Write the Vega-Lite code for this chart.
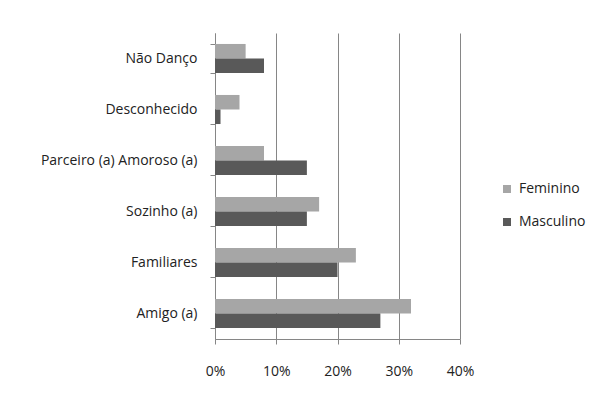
{
  "$schema": "https://vega.github.io/schema/vega-lite/v6.json",
  "autosize": "none",
  "width": 245,
  "height": 306,
  "padding": {"left": 215, "top": 33, "right": 131, "bottom": 59},
  "background": "white",
  "config": {
    "view": {"stroke": null},
    "font": "Open Sans",
    "axis": {"labelFont": "Open Sans", "labelColor": "#222222", "labelFontSize": 14}
  },
  "data": {
    "values": [
      {"categoria": "Não Danço", "sexo": "Feminino", "valor": 0.05},
      {"categoria": "Não Danço", "sexo": "Masculino", "valor": 0.08},
      {"categoria": "Desconhecido", "sexo": "Feminino", "valor": 0.04},
      {"categoria": "Desconhecido", "sexo": "Masculino", "valor": 0.009},
      {"categoria": "Parceiro (a) Amoroso (a)", "sexo": "Feminino", "valor": 0.08},
      {"categoria": "Parceiro (a) Amoroso (a)", "sexo": "Masculino", "valor": 0.15},
      {"categoria": "Sozinho (a)", "sexo": "Feminino", "valor": 0.17},
      {"categoria": "Sozinho (a)", "sexo": "Masculino", "valor": 0.15},
      {"categoria": "Familiares", "sexo": "Feminino", "valor": 0.23},
      {"categoria": "Familiares", "sexo": "Masculino", "valor": 0.20},
      {"categoria": "Amigo (a)", "sexo": "Feminino", "valor": 0.32},
      {"categoria": "Amigo (a)", "sexo": "Masculino", "valor": 0.27}
    ]
  },
  "mark": {"type": "bar"},
  "encoding": {
    "y": {
      "field": "categoria",
      "type": "nominal",
      "sort": ["Não Danço", "Desconhecido", "Parceiro (a) Amoroso (a)", "Sozinho (a)", "Familiares", "Amigo (a)"],
      "scale": {"paddingInner": 0.43, "paddingOuter": 0.215},
      "axis": {
        "title": null,
        "tickBand": "extent",
        "tickSize": 5,
        "tickColor": "#868686",
        "domainColor": "#868686",
        "labelPadding": 13,
        "labelFontSize": 14,
        "grid": false
      }
    },
    "yOffset": {
      "field": "sexo",
      "type": "nominal",
      "sort": ["Feminino", "Masculino"]
    },
    "x": {
      "field": "valor",
      "type": "quantitative",
      "scale": {"domain": [0, 0.4], "nice": false},
      "axis": {
        "title": null,
        "format": ".0%",
        "values": [0, 0.1, 0.2, 0.3, 0.4],
        "grid": true,
        "gridColor": "#868686",
        "gridWidth": 1,
        "tickSize": 5,
        "tickColor": "#868686",
        "domainColor": "#868686",
        "labelPadding": 20,
        "labelFlush": false,
        "labelFontSize": 14
      }
    },
    "color": {
      "field": "sexo",
      "type": "nominal",
      "scale": {"domain": ["Feminino", "Masculino"], "range": ["#a6a6a6", "#595959"]},
      "legend": {
        "title": null,
        "orient": "none",
        "legendX": 285,
        "legendY": 149,
        "symbolType": "square",
        "symbolSize": 64,
        "symbolStrokeWidth": 0,
        "labelFontSize": 14,
        "labelColor": "#222222",
        "labelFont": "Open Sans",
        "rowPadding": 19,
        "labelOffset": 5
      }
    }
  }
}
